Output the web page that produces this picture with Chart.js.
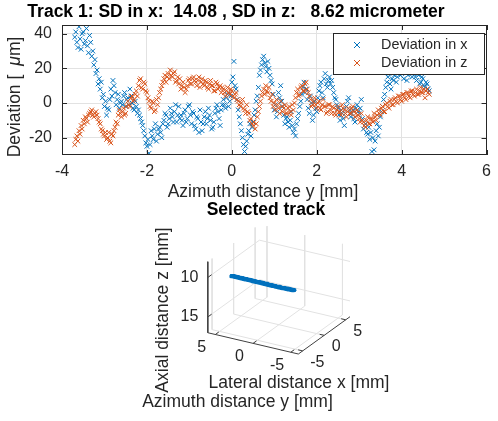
<!DOCTYPE html>
<html><head><meta charset="utf-8">
<script src="https://cdn.jsdelivr.net/npm/chart.js@4.4.1/dist/chart.umd.min.js"></script>
<style>
html,body{margin:0;padding:0;background:#fff;}
#wrap{position:relative;width:498px;height:421px;background:#fff;}
canvas{position:absolute;left:0;top:0;}
</style></head><body>
<div id="wrap"><canvas id="c1" width="498" height="421"></canvas><canvas id="c2" width="498" height="421"></canvas></div>
<script>
// ---------------- data ----------------
const azimuth = [
 -3.7,-3.675,-3.65,-3.625,-3.6,-3.575,-3.55,-3.525,-3.5,-3.475,-3.45,-3.425,-3.4,-3.375,-3.35,-3.325,-3.3,-3.275,-3.25,-3.225,
 -3.2,-3.175,-3.15,-3.125,-3.1,-3.075,-3.05,-3.025,-3.0,-2.975,-2.95,-2.925,-2.9,-2.875,-2.85,-2.825,-2.8,-2.775,-2.75,-2.725,
 -2.7,-2.675,-2.65,-2.625,-2.6,-2.575,-2.55,-2.525,-2.5,-2.475,-2.45,-2.425,-2.4,-2.375,-2.35,-2.325,-2.3,-2.275,-2.25,-2.225,
 -2.2,-2.175,-2.15,-2.125,-2.1,-2.075,-2.05,-2.025,-2.0,-1.975,-1.95,-1.925,-1.9,-1.875,-1.85,-1.825,-1.8,-1.775,-1.75,-1.725,
 -1.7,-1.675,-1.65,-1.625,-1.6,-1.575,-1.55,-1.525,-1.5,-1.475,-1.45,-1.425,-1.4,-1.375,-1.35,-1.325,-1.3,-1.275,-1.25,-1.225,
 -1.2,-1.175,-1.15,-1.125,-1.1,-1.075,-1.05,-1.025,-1.0,-0.975,-0.95,-0.925,-0.9,-0.875,-0.85,-0.825,-0.8,-0.775,-0.75,-0.725,
 -0.7,-0.675,-0.65,-0.625,-0.6,-0.575,-0.55,-0.525,-0.5,-0.475,-0.45,-0.425,-0.4,-0.375,-0.35,-0.325,-0.3,-0.275,-0.25,-0.225,
 -0.2,-0.175,-0.15,-0.125,-0.1,-0.075,-0.05,-0.025,0.0,0.025,0.05,0.075,0.1,0.125,0.15,0.175,0.2,0.225,0.25,0.275,
 0.3,0.325,0.35,0.375,0.4,0.425,0.45,0.475,0.5,0.525,0.55,0.575,0.6,0.625,0.65,0.675,0.7,0.725,0.75,0.775,
 0.8,0.825,0.85,0.875,0.9,0.925,0.95,0.975,1.0,1.025,1.05,1.075,1.1,1.125,1.15,1.175,1.2,1.225,1.25,1.275,
 1.3,1.325,1.35,1.375,1.4,1.425,1.45,1.475,1.5,1.525,1.55,1.575,1.6,1.625,1.65,1.675,1.7,1.725,1.75,1.775,
 1.8,1.825,1.85,1.875,1.9,1.925,1.95,1.975,2.0,2.025,2.05,2.075,2.1,2.125,2.15,2.175,2.2,2.225,2.25,2.275,
 2.3,2.325,2.35,2.375,2.4,2.425,2.45,2.475,2.5,2.525,2.55,2.575,2.6,2.625,2.65,2.675,2.7,2.725,2.75,2.775,
 2.8,2.825,2.85,2.875,2.9,2.925,2.95,2.975,3.0,3.025,3.05,3.075,3.1,3.125,3.15,3.175,3.2,3.225,3.25,3.275,
 3.3,3.325,3.35,3.375,3.4,3.425,3.45,3.475,3.5,3.525,3.55,3.575,3.6,3.625,3.65,3.675,3.7,3.725,3.75,3.775,
 3.8,3.825,3.85,3.875,3.9,3.925,3.95,3.975,4.0,4.025,4.05,4.075,4.1,4.125,4.15,4.175,4.2,4.225,4.25,4.275,
 4.3,4.325,4.35,4.375,4.4,4.425,4.45,4.475,4.5,4.525,4.55,4.575,4.6,4.625,4.65
];
const deviationX = [
 38,41,35,32,44,37,31,40,41,34,36,43,33,29,39,35,27,30,22,25,
 17,19,11,14,8,12,3,5,-2,1,-7,-3,-4,2,8,4,13,10,6,-1,
 2,5,-3,0,1,-1,4,6,-2,2,3,-1,8,4,0,-3,-4,1,-2,-6,
 -4,-7,-9,-11,-13,-16,-19,-23,-25,-21,-29,-24,-16,-19,-21,-15,-12,-22,-18,-15,
 -14,-17,-20,-12,-10,-6,-7,-14,-12,-9,-3,-6,-8,-11,-5,-1,-11,-7,-2,-9,
 -7,-10,-13,-6,-4,-11,-9,-2,-1,-7,-12,-5,-6,-13,-15,-8,-9,-17,-4,-11,
 -16,-12,-8,-5,-12,-9,-3,-7,-10,-15,-14,-11,-6,-3,-1,-5,-9,-13,-4,-1,
 2,-1,-3,3,5,-2,1,4,12,15,24,10,8,2,-4,-8,-12,-16,-20,-24,
 -28,-25,-22,-18,-16,-12,-19,-14,-11,-7,-4,1,4,9,16,19,22,25,27,23,
 21,18,24,20,16,13,11,5,-4,-1,-8,-5,6,3,10,1,-2,-7,-12,-9,
 -8,-11,-14,-10,-5,-13,-17,-15,-19,-12,-9,-6,-2,1,5,9,12,6,8,2,
 -3,-6,4,0,-10,-7,1,-3,-5,3,7,10,12,6,3,14,17,11,9,13,
 15,11,13,9,6,3,2,-1,-3,-7,-10,-4,-6,-9,-13,-6,-2,1,3,-4,
 -8,-6,-4,-9,-11,-3,-1,-5,-6,-3,2,-9,-15,-13,-12,-17,-18,-14,-21,-17,
 -28,-20,-27,-22,-16,-12,-19,-14,-8,-5,-2,2,5,9,12,15,17,11,8,14,
 13,16,18,12,15,19,21,16,17,20,14,18,19,13,16,21,22,17,15,19,
 18,15,13,17,16,11,12,15,14,10,9,12,11,8,7
];
const deviationZ = [
 -24,-21,-19,-22,-16,-18,-13,-15,-10,-12,-8,-9,-11,-7,-6,-5,-4,-7,-8,-6,
 -5,-7,-9,-11,-12,-15,-16,-18,-19,-17,-21,-20,-17,-22,-23,-18,-19,-16,-14,-11,
 -12,-7,-4,-6,-8,-5,-3,-7,-6,-2,1,-1,-2,3,4,1,2,5,7,4,
 10,13,14,9,8,12,11,7,6,3,1,-2,-3,1,0,-5,-4,2,-1,3,
 6,8,10,12,14,16,12,15,17,14,19,16,15,17,18,12,13,15,11,14,
 8,10,12,9,6,8,10,13,14,11,11,14,15,13,12,10,13,15,9,12,
 14,11,10,13,12,9,8,11,13,10,10,7,7,12,11,8,9,10,6,9,
 8,6,4,7,9,6,5,8,7,4,3,5,6,2,1,-1,-2,0,2,-3,
 -4,-6,-1,-5,-6,-10,-9,-12,-13,-11,-15,-12,-8,-5,-2,1,4,6,8,5,
 10,7,6,9,3,1,5,-2,0,-4,2,-1,-3,-6,1,-2,-5,-3,-1,-6,
 -6,-3,-2,-5,-7,-1,-4,0,3,6,8,4,5,9,10,7,7,11,12,8,
 6,4,2,-2,-1,1,3,-1,-3,0,1,-3,-4,-1,2,-2,-2,-6,-5,-1,
 -1,-4,-6,-2,-3,-6,-7,-4,-2,-5,-5,-7,-1,-3,-4,-6,-8,-5,-3,-6,
 -6,-3,-2,-5,-8,-6,-4,-7,-9,-11,-6,-10,-11,-13,-14,-10,-8,-12,-12,-9,
 -9,-11,-6,-8,-10,-7,-4,-6,-7,-3,-2,-5,-5,-1,0,-2,-3,1,2,-1,
 -1,2,3,1,0,4,4,2,1,5,5,3,2,6,6,4,3,7,7,5,
 4,6,8,5,5,7,9,6,6,8,3,7,8,6,5
];
const seriesNames = ['Deviation in x', 'Deviation in z'];
const xTicks = [-4, -2, 0, 2, 4, 6];
const yTicks = [-20, 0, 20, 40];
const xRange = [-4, 6];
const yRange = [-30, 45];
const titleTop = 'Track 1: SD in x:  14.08 , SD in z:   8.62 micrometer';
const xLabelTop = 'Azimuth distance y [mm]';

// 3D track (mm)
const trackLateralMM = -2.9;
const trackAxialMM = 10.7;
const azLim3 = [-6, 6];
const latLim3 = [-6, 6];
const axLim3 = [8, 17];
const azTicks3 = [-5, 0, 5];
const latTicks3 = [-5, 0, 5];
const axTicks3 = [10, 15];
const title3 = 'Selected track';

// ---------------- style ----------------
const FONT = '"Liberation Sans", Arial, Helvetica, sans-serif';
const BLUE = '#0072BD', ORANGE = '#D95319', AXC = '#262626', GRID = '#e2e2e2';

// ---------------- chart 1 ----------------
const framePlugin = {
  id: 'frame',
  afterDraw(chart) {
    const ctx = chart.ctx, a = chart.chartArea, sx = chart.scales.x, sy = chart.scales.y;
    ctx.save();
    ctx.strokeStyle = AXC; ctx.lineWidth = 1;
    ctx.strokeRect(Math.round(a.left) + 0.5, Math.round(a.top) + 0.5, Math.round(a.right - a.left) - 1, Math.round(a.bottom - a.top) - 1);
    ctx.beginPath();
    xTicks.forEach(v => { const px = Math.round(sx.getPixelForValue(v)) + 0.5;
      ctx.moveTo(px, a.bottom); ctx.lineTo(px, a.bottom - 5); ctx.moveTo(px, a.top); ctx.lineTo(px, a.top + 5); });
    yTicks.forEach(v => { const py = Math.round(sy.getPixelForValue(v)) + 0.5;
      ctx.moveTo(a.left, py); ctx.lineTo(a.left + 5, py); ctx.moveTo(a.right, py); ctx.lineTo(a.right - 5, py); });
    ctx.stroke();
    // legend
    const lx = 333, ly = 33, lw = 151, lh = 41;
    ctx.fillStyle = '#fff'; ctx.fillRect(lx, ly, lw, lh);
    ctx.strokeStyle = AXC; ctx.strokeRect(lx + 0.5, ly + 0.5, lw, lh);
    [[BLUE, 45], [ORANGE, 63]].forEach((e, i) => {
      ctx.strokeStyle = e[0]; ctx.lineWidth = 1;
      ctx.beginPath(); ctx.moveTo(354, e[1] - 3); ctx.lineTo(360, e[1] + 3); ctx.moveTo(360, e[1] - 3); ctx.lineTo(354, e[1] + 3); ctx.stroke();
      ctx.fillStyle = AXC; ctx.font = '14.4px ' + FONT; ctx.textBaseline = 'middle'; ctx.textAlign = 'left';
      ctx.fillText(seriesNames[i], 381, e[1]);
    });
    // title
    ctx.fillStyle = '#000'; ctx.font = 'bold 17.5px ' + FONT; ctx.textAlign = 'center'; ctx.textBaseline = 'middle';
    ctx.fillText(titleTop, 236, 12);
    // x label
    ctx.fillStyle = AXC; ctx.font = '17.5px ' + FONT;
    ctx.fillText(xLabelTop, 263, 192);
    // y label: Deviation [ \mu m]
    ctx.translate(15, 97); ctx.rotate(-Math.PI / 2);
    const p1 = 'Deviation [', gap = 9, p2 = '\u03bc', p3 = 'm]';
    ctx.font = '17.5px ' + FONT; const w1 = ctx.measureText(p1).width, w3 = ctx.measureText(p3).width;
    ctx.font = 'italic 17.5px ' + FONT; const w2 = ctx.measureText(p2).width;
    let x0 = -(w1 + gap + w2 + w3) / 2;
    ctx.textAlign = 'left';
    ctx.font = '17.5px ' + FONT; ctx.fillText(p1, x0, 0);
    ctx.font = 'italic 17.5px ' + FONT; ctx.fillText(p2, x0 + w1 + gap, 0);
    ctx.font = '17.5px ' + FONT; ctx.fillText(p3, x0 + w1 + gap + w2, 0);
    ctx.restore();
  }
};

new Chart(document.getElementById('c1'), {
  type: 'scatter',
  data: { datasets: [
    { label: seriesNames[0], data: azimuth.map((a, i) => ({ x: a, y: deviationX[i] })), pointStyle: 'crossRot', pointRadius: 3.3, borderColor: BLUE, backgroundColor: BLUE, borderWidth: 1, order: 1 },
    { label: seriesNames[1], data: azimuth.map((a, i) => ({ x: a, y: deviationZ[i] })), pointStyle: 'crossRot', pointRadius: 3.3, borderColor: ORANGE, backgroundColor: ORANGE, borderWidth: 1, order: 0 }
  ]},
  options: {
    responsive: false, animation: false, events: [],
    layout: { padding: { left: 0, top: 25, right: 4, bottom: 236 } },
    plugins: { legend: { display: false }, title: { display: false }, tooltip: { enabled: false } },
    scales: {
      x: { type: 'linear', min: xRange[0], max: xRange[1],
           afterBuildTicks: s => { s.ticks = xTicks.map(v => ({ value: v })); },
           afterFit: s => { s.height = 30; },
           grid: { color: GRID, drawTicks: false }, border: { display: false },
           ticks: { padding: 7, color: AXC, font: { family: FONT, size: 16 }, autoSkip: false, maxRotation: 0 } },
      y: { type: 'linear', min: yRange[0], max: yRange[1],
           afterBuildTicks: s => { s.ticks = yTicks.map(v => ({ value: v })); },
           afterFit: s => { s.width = 62; },
           grid: { color: GRID, drawTicks: false }, border: { display: false },
           ticks: { padding: 10, color: AXC, font: { family: FONT, size: 16 }, autoSkip: false } }
    }
  },
  plugins: [framePlugin]
});

// ---------------- chart 2 (3D view) ----------------
const view3 = { az: 29.7, el: 24.3, zAspect: 0.747 };
const D2R = Math.PI / 180;
function project(a, l, z) {
  const p = (a - azLim3[0]) / (azLim3[1] - azLim3[0]) - 0.5;
  const q = (l - latLim3[0]) / (latLim3[1] - latLim3[0]) - 0.5;
  const r = (axLim3[1] - z) / (axLim3[1] - axLim3[0]) - 0.5;
  const f = view3.az * D2R, e = view3.el * D2R;
  return { x: -p * Math.cos(f) + q * Math.sin(f),
           y: (p * Math.sin(f) + q * Math.cos(f)) * Math.sin(e) + r * view3.zAspect * Math.cos(e) };
}
const corners = [];
azLim3.forEach(a => latLim3.forEach(l => axLim3.forEach(z => corners.push(project(a, l, z)))));
const uMin = Math.min(...corners.map(c => c.x)), uMax = Math.max(...corners.map(c => c.x));
const vMin = Math.min(...corners.map(c => c.y)), vMax = Math.max(...corners.map(c => c.y));
const box3 = { left: 207.8, top: 224.4, right: 350, bottom: 354 };

const A0 = azLim3[0], A1 = azLim3[1], L0 = latLim3[0], L1 = latLim3[1], Z0 = axLim3[0], Z1 = axLim3[1];
const gridSegs = [];
azTicks3.forEach(a => gridSegs.push([project(a, L0, Z1), project(a, L1, Z1)]));
latTicks3.forEach(l => gridSegs.push([project(A0, l, Z1), project(A1, l, Z1)]));
latTicks3.forEach(l => gridSegs.push([project(A1, l, Z0), project(A1, l, Z1)]));
axTicks3.forEach(z => gridSegs.push([project(A1, L0, z), project(A1, L1, z)]));
azTicks3.forEach(a => gridSegs.push([project(a, L1, Z0), project(a, L1, Z1)]));
axTicks3.forEach(z => gridSegs.push([project(A0, L1, z), project(A1, L1, z)]));
const axisSegs = [
  [project(A1, L0, Z0), project(A1, L0, Z1)],
  [project(A1, L0, Z1), project(A0, L0, Z1)],
  [project(A0, L0, Z1), project(A0, L1, Z1)]
];
azTicks3.forEach(a => axisSegs.push([project(a, L0, Z1), project(a, L0 + 0.8, Z1)]));
latTicks3.forEach(l => axisSegs.push([project(A0, l, Z1), project(A0 + 0.6, l, Z1)]));
axTicks3.forEach(z => axisSegs.push([project(A1, L0, z), project(A1, L0 + 0.9, z)]));

const segDS = (seg, color, order) => ({ data: seg, showLine: true, borderColor: color, borderWidth: 1, pointRadius: 0, fill: false, order: order, clip: false });
const datasets2 = [];
gridSegs.forEach(s => datasets2.push(segDS(s, GRID, 3)));
axisSegs.forEach(s => datasets2.push(segDS(s, '#404040', 2)));
datasets2.push({ data: azimuth.map((a, i) => project(a, trackLateralMM + deviationX[i] / 1000, trackAxialMM + deviationZ[i] / 1000)),
  showLine: true, borderColor: BLUE, backgroundColor: BLUE, borderWidth: 4, pointRadius: 1.8, pointBorderWidth: 0, order: 0, clip: false });

const text3Plugin = {
  id: 'text3',
  afterDraw(chart) {
    const ctx = chart.ctx, sx = chart.scales.x, sy = chart.scales.y;
    const pix = p => ({ x: sx.getPixelForValue(p.x), y: sy.getPixelForValue(p.y) });
    ctx.save();
    ctx.fillStyle = AXC; ctx.font = '16px ' + FONT; ctx.textBaseline = 'middle';
    ctx.textAlign = 'right';
    axTicks3.forEach(z => { const p = pix(project(A1, L0, z)); ctx.fillText(String(z), p.x - 9.5, p.y); });
    ctx.textAlign = 'center';
    azTicks3.forEach(a => { const p = pix(project(a, L0, Z1)); ctx.fillText(String(a), p.x - 13.7, p.y + 13.5); });
    ctx.textAlign = 'left';
    latTicks3.forEach(l => { const p = pix(project(A0, l, Z1)); ctx.fillText(String(l), p.x + 7.5, p.y + 11.5); });
    ctx.font = '17.5px ' + FONT; ctx.textAlign = 'center';
    ctx.fillText('Lateral distance x [mm]', 299, 383);
    ctx.fillText('Azimuth distance y [mm]', 237.5, 402);
    ctx.save(); ctx.translate(163, 310); ctx.rotate(-Math.PI / 2);
    ctx.fillText('Axial distance z [mm]', 0, 0); ctx.restore();
    ctx.fillStyle = '#000'; ctx.font = 'bold 17.5px ' + FONT;
    ctx.fillText(title3, 266, 210);
    ctx.restore();
  }
};

new Chart(document.getElementById('c2'), {
  type: 'scatter',
  data: { datasets: datasets2 },
  options: {
    responsive: false, animation: false, events: [],
    layout: { padding: { left: box3.left, top: box3.top, right: 498 - box3.right, bottom: 421 - box3.bottom } },
    plugins: { legend: { display: false }, title: { display: false }, tooltip: { enabled: false } },
    scales: {
      x: { type: 'linear', display: false, min: uMin, max: uMax },
      y: { type: 'linear', display: false, min: vMin, max: vMax }
    }
  },
  plugins: [text3Plugin]
});
</script>
</body></html>
